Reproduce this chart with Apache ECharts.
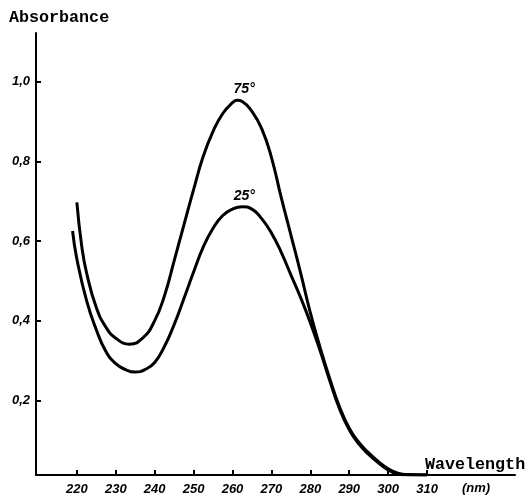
<!DOCTYPE html>
<html>
<head>
<meta charset="utf-8">
<script src="https://cdn.jsdelivr.net/npm/echarts@6/dist/echarts.min.js"></script>
<style>
  html, body { margin: 0; padding: 0; background: #fff; }
  #chart { width: 530px; height: 496px; }
</style>
</head>
<body>
<div id="chart"></div>
<script>
// 75° curve (nm, absorbance)
const wl75 = [220, 221.25, 222.5, 225, 227.5, 230, 233.5, 237, 240, 242.5, 245, 247.5, 250, 252.5, 255, 257.5, 260, 261.2, 262.5, 265, 267.5, 270, 272.5, 275, 277.5, 280, 282.5, 285, 287.5, 290, 292.5, 295, 297.5, 300, 302.5, 305, 310]
const abs75 = [0.697, 0.587, 0.52, 0.433, 0.383, 0.356, 0.341, 0.357, 0.4, 0.462, 0.55, 0.64, 0.729, 0.813, 0.875, 0.92, 0.947, 0.953, 0.95, 0.925, 0.882, 0.81, 0.71, 0.615, 0.52, 0.42, 0.333, 0.254, 0.184, 0.13, 0.094, 0.068, 0.046, 0.028, 0.017, 0.0135, 0.0128]

// 25° curve
const wl25 = [218.9, 220, 222.5, 225, 227.5, 230, 232.5, 235, 237.5, 240, 242.5, 245, 247.5, 250, 252.5, 255, 257.5, 260, 262.5, 265, 267.5, 270, 272.5, 275, 277.5, 280, 282.5, 285, 287.5, 290, 292.5, 295, 297.5, 300, 302.5, 305, 310]
const abs25 = [0.625, 0.555, 0.45, 0.377, 0.322, 0.292, 0.277, 0.271, 0.277, 0.295, 0.335, 0.39, 0.455, 0.522, 0.585, 0.632, 0.664, 0.68, 0.686, 0.68, 0.656, 0.62, 0.572, 0.515, 0.458, 0.395, 0.325, 0.249, 0.179, 0.126, 0.09, 0.064, 0.043, 0.025, 0.015, 0.0128, 0.0125]

const xTicks = [220, 230, 240, 250, 260, 270, 280, 290, 300, 310]
const yTicks = [0.2, 0.4, 0.6, 0.8, 1.0]

const peak75 = 17  // index of the 75° label point
const peak25 = 18  // index of the 25° label point

const tickFont = {
  color: '#000',
  fontFamily: 'Liberation Sans',
  fontStyle: 'italic',
  fontWeight: 'bold',
  fontSize: 13
}

const makeData = (xs, ys, peakIdx, text, dx) => xs.map((x, i) => {
  if (i !== peakIdx) return [x, ys[i]]
  return {
    value: [x, ys[i]],
    label: {
      show: true,
      formatter: text,
      position: 'top',
      distance: 4,
      offset: [dx, 0],
      ...tickFont,
      fontSize: 14
    }
  }
})

const chart = echarts.init(document.getElementById('chart'))

const lineSeries = (name, xs, ys, peakIdx, dx) => ({
  name,
  type: 'line',
  smooth: true,
  symbol: 'circle',
  symbolSize: 0,
  showSymbol: true,
  showAllSymbol: true,
  lineStyle: { color: '#000', width: 3 },
  itemStyle: { color: '#000' },
  data: makeData(xs, ys, peakIdx, name, dx)
})

chart.setOption({
  animation: false,
  backgroundColor: '#fff',
  title: [
    {
      text: 'Absorbance',
      left: 9, top: 9, padding: 0,
      textStyle: { fontFamily: 'Liberation Mono', fontWeight: 'bold', fontSize: 16.7, color: '#000' }
    },
    {
      text: 'Wavelength',
      left: 425, top: 456, padding: 0,
      textStyle: { fontFamily: 'Liberation Mono', fontWeight: 'bold', fontSize: 16.7, color: '#000' }
    },
    {
      text: '(nm)',
      left: 462, top: 482, padding: 0,
      textStyle: { ...tickFont }
    }
  ],
  grid: { left: 36, right: 15, top: 33, bottom: 20 },
  xAxis: {
    type: 'value',
    min: 209.5,
    max: 332.6,
    splitLine: { show: false },
    axisLine: { lineStyle: { color: '#000', width: 2 } },
    axisTick: { inside: true, length: 5, customValues: xTicks, lineStyle: { color: '#000', width: 2 } },
    axisLabel: { customValues: xTicks, margin: 8, ...tickFont }
  },
  yAxis: {
    type: 'value',
    min: 0.0125,
    max: 1.122,
    splitLine: { show: false },
    axisLine: { show: true, lineStyle: { color: '#000', width: 2 } },
    axisTick: { show: true, inside: true, length: 5, customValues: yTicks, lineStyle: { color: '#000', width: 2 } },
    axisLabel: {
      customValues: yTicks,
      margin: 6,
      formatter: v => v.toFixed(1).replace('.', ','),
      ...tickFont
    }
  },
  series: [
    lineSeries('75°', wl75, abs75, peak75, 7),
    lineSeries('25°', wl25, abs25, peak25, 2)
  ]
})
</script>
</body>
</html>
